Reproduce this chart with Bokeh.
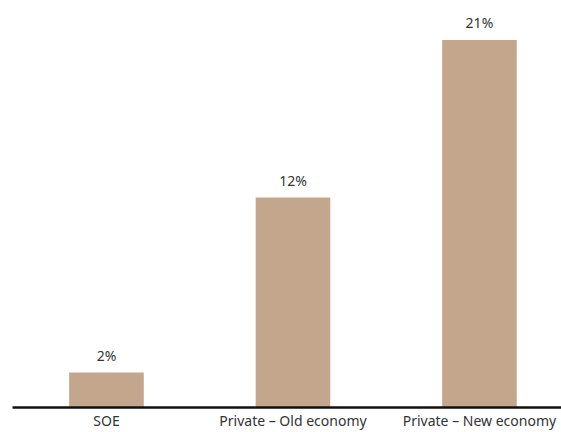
from bokeh.plotting import figure
from bokeh.models import ColumnDataSource, Range1d, FixedTicker, LabelSet
from bokeh.core.properties import value
from bokeh.embed import file_html
from bokeh.resources import INLINE

# Share of firms by ownership type (%)
categories = ["SOE", "Private \u2013 Old economy", "Private \u2013 New economy"]
values = [2, 12, 21]
value_labels = ["2%", "12%", "21%"]

positions = list(range(len(categories)))
source = ColumnDataSource(dict(x=positions, top=values, label=value_labels))

p = figure(width=561, height=432, output_backend="svg", toolbar_location=None,
           x_range=Range1d(-0.504, 2.44), y_range=Range1d(0, 23.26),
           min_border_left=12, min_border_right=0, min_border_top=0, min_border_bottom=0)

p.vbar(x="x", top="top", bottom=0, width=0.40, source=source,
       fill_color="#C4A68C", line_color=None)

# value labels above the bars
labels = LabelSet(x="x", y="top", text="label", source=source,
                  text_align="center", text_baseline="bottom", y_offset=8,
                  text_font=value("Noto Sans"), text_font_size="14px",
                  text_color="#333333")
p.add_layout(labels)

# category axis with a heavy baseline and no ticks
ax = p.xaxis[0]
ax.ticker = FixedTicker(ticks=positions)
ax.major_label_overrides = {i: c for i, c in enumerate(categories)}
ax.major_tick_out = 0
ax.major_tick_in = 0
ax.minor_tick_out = 0
ax.minor_tick_in = 0
ax.axis_label_standoff = 0
ax.axis_line_color = "#111111"
ax.axis_line_width = 2.5
ax.major_label_text_font = "Noto Sans"
ax.major_label_text_font_size = "14px"
ax.major_label_text_color = "#333333"
ax.major_label_text_line_height = 1.0
ax.major_label_standoff = 3

p.yaxis.visible = False
p.grid.visible = False
p.outline_line_color = None

open("out.html", "w").write(file_html(p, INLINE))
